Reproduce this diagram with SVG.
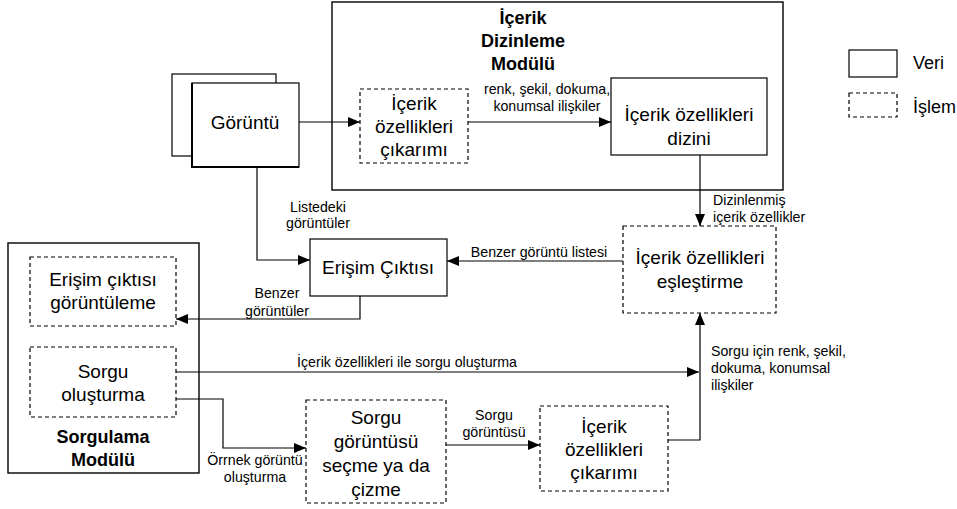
<svg xmlns="http://www.w3.org/2000/svg" width="957" height="509" viewBox="0 0 957 509">
  <defs>
    <marker id="arrow" viewBox="0 0 12 10" refX="12" refY="5" markerWidth="12" markerHeight="10" markerUnits="userSpaceOnUse" orient="auto">
      <path d="M0,0 L12,5 L0,10 z" fill="#000"/>
    </marker>
  </defs>
  <style>
    .data { fill: #fff; stroke: #000; stroke-width: 1.2; }
    .proc { fill: #fff; stroke: #000; stroke-width: 1.2; stroke-dasharray: 4 3; }
    .module { fill: #fff; stroke: #000; stroke-width: 1.4; }
    .big { font-family: "Liberation Sans", Arial, sans-serif; font-size: 19px; fill: #000; text-anchor: middle; }
    .title { font-family: "Liberation Sans", Arial, sans-serif; font-size: 18px; font-weight: bold; fill: #000; text-anchor: middle; }
    .lbl { font-family: "Liberation Sans", Arial, sans-serif; font-size: 14.2px; fill: #000; }
    .mid { text-anchor: middle; }
    .legend { font-family: "Liberation Sans", Arial, sans-serif; font-size: 18px; fill: #000; }
    .wire { fill: none; stroke: #000; stroke-width: 1.2; }
  </style>
  <rect width="957" height="509" fill="#fff"/>

  <!-- Indexing module container -->
  <g id="indexing-module">
    <rect class="module" x="332" y="2" width="451" height="188"/>
    <text class="title" x="523" y="24">İçerik</text>
    <text class="title" x="523" y="47">Dizinleme</text>
    <text class="title" x="523" y="70">Modülü</text>
  </g>

  <!-- Query module container -->
  <g id="query-module">
    <rect class="module" x="8" y="243" width="191" height="230"/>
    <text class="title" x="103" y="443">Sorgulama</text>
    <text class="title" x="103" y="466">Modülü</text>
  </g>

  <!-- Image stack -->
  <g id="image">
    <rect class="data" x="172" y="74" width="104" height="82"/>
    <rect class="data" x="192" y="83" width="107" height="84"/>
    <path d="M192,83 V167 H299" fill="none" stroke="#000" stroke-width="2"/>
    <text class="big" x="245" y="129">Görüntü</text>
  </g>

  <g id="extract-index">
    <rect class="proc" x="360" y="89" width="108" height="74"/>
    <text class="big" x="414" y="110">İçerik</text>
    <text class="big" x="414" y="133">özellikleri</text>
    <text class="big" x="414" y="156">çıkarımı</text>
  </g>

  <g id="feature-index">
    <rect class="data" x="611" y="78" width="156" height="77"/>
    <text class="big" x="689" y="121">İçerik özellikleri</text>
    <text class="big" x="689" y="145">dizini</text>
  </g>

  <g id="matching">
    <rect class="proc" x="623" y="226" width="153" height="87"/>
    <text class="big" x="700" y="264">İçerik özellikleri</text>
    <text class="big" x="700" y="288">eşleştirme</text>
  </g>

  <g id="retrieval-output">
    <rect class="data" x="310" y="239" width="137" height="57"/>
    <text class="big" x="378" y="274">Erişim Çıktısı</text>
  </g>

  <g id="display-output">
    <rect class="proc" x="30" y="257" width="146" height="69"/>
    <text class="big" x="103" y="286">Erişim çıktısı</text>
    <text class="big" x="103" y="309">görüntüleme</text>
  </g>

  <g id="query-build">
    <rect class="proc" x="30" y="347" width="146" height="70"/>
    <text class="big" x="103" y="378">Sorgu</text>
    <text class="big" x="103" y="401">oluşturma</text>
  </g>

  <g id="query-image">
    <rect class="proc" x="306" y="400" width="140" height="103"/>
    <text class="big" x="376" y="424">Sorgu</text>
    <text class="big" x="376" y="448">görüntüsü</text>
    <text class="big" x="376" y="472">seçme ya da</text>
    <text class="big" x="376" y="496">çizme</text>
  </g>

  <g id="extract-query">
    <rect class="proc" x="540" y="406" width="128" height="85"/>
    <text class="big" x="604" y="433">İçerik</text>
    <text class="big" x="604" y="456">özellikleri</text>
    <text class="big" x="604" y="479">çıkarımı</text>
  </g>

  <!-- Legend -->
  <g id="legend">
    <rect class="data" x="849" y="50" width="48" height="27"/>
    <text class="legend" x="913" y="69">Veri</text>
    <rect class="proc" x="849" y="93" width="48" height="24"/>
    <text class="legend" x="913" y="113">İşlem</text>
  </g>

  <!-- Connectors -->
  <g id="connectors">
    <path class="wire" d="M299,122 H360" marker-end="url(#arrow)"/>
    <path class="wire" d="M468,122 H611" marker-end="url(#arrow)"/>
    <path class="wire" d="M700,155 V226" marker-end="url(#arrow)"/>
    <path class="wire" d="M257,167 V260 H310" marker-end="url(#arrow)"/>
    <path class="wire" d="M623,261 H447" marker-end="url(#arrow)"/>
    <path class="wire" d="M360,296 V319 H176" marker-end="url(#arrow)"/>
    <path class="wire" d="M176,372 H699" marker-end="url(#arrow)"/>
    <path class="wire" d="M176,399 H223 V448 H306" marker-end="url(#arrow)"/>
    <path class="wire" d="M446,445 H540" marker-end="url(#arrow)"/>
    <path class="wire" d="M668,440 H700 V313" marker-end="url(#arrow)"/>

    <text class="lbl mid" x="547" y="94">renk, şekil, dokuma,</text>
    <text class="lbl mid" x="547" y="111">konumsal ilişkiler</text>
    <text class="lbl" x="713" y="205">Dizinlenmiş</text>
    <text class="lbl" x="713" y="222">içerik özellikler</text>
    <text class="lbl mid" x="318" y="212">Listedeki</text>
    <text class="lbl mid" x="318" y="228">görüntüler</text>
    <text class="lbl mid" x="539" y="257">Benzer görüntü listesi</text>
    <text class="lbl mid" x="277" y="298">Benzer</text>
    <text class="lbl mid" x="277" y="316">görüntüler</text>
    <text class="lbl mid" x="407" y="367">İçerik özellikleri ile sorgu oluşturma</text>
    <text class="lbl mid" x="255" y="465">Örrnek görüntü</text>
    <text class="lbl mid" x="255" y="482">oluşturma</text>
    <text class="lbl mid" x="494" y="420">Sorgu</text>
    <text class="lbl mid" x="494" y="437">görüntüsü</text>
    <text class="lbl" x="711" y="356">Sorgu için renk, şekil,</text>
    <text class="lbl" x="711" y="373">dokuma, konumsal</text>
    <text class="lbl" x="711" y="390">ilişkiler</text>
  </g>
</svg>
